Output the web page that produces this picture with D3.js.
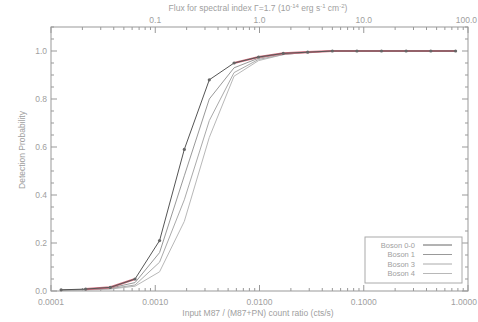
<!DOCTYPE html>
<html><head><meta charset="utf-8">
<script src="https://cdn.jsdelivr.net/npm/d3@7/dist/d3.min.js"></script>
<style>body{margin:0;background:#fff}svg{display:block}text{font-family:"Liberation Sans",Arial,sans-serif;fill:#a0a0a0}</style>
</head><body><svg id="c" width="478" height="322"></svg>
<script>
const ratio = [1.25e-4, 2.15e-4, 3.7e-4, 6.4e-4, 1.1e-3, 1.9e-3, 3.3e-3, 5.7e-3, 9.8e-3, 1.69e-2, 2.9e-2, 5.0e-2, 8.6e-2, 0.148, 0.255, 0.44, 0.76];
const boson00 = [0.005, 0.008, 0.015, 0.05, 0.21, 0.59, 0.88, 0.95, 0.975, 0.99, 0.995, 1, 1, 1, 1, 1, 1];
const boson1  = [0.004, 0.006, 0.012, 0.035, 0.16, 0.48, 0.80, 0.93, 0.97, 0.99, 0.995, 1, 1, 1, 1, 1, 1];
const boson3  = [0.003, 0.005, 0.010, 0.025, 0.12, 0.38, 0.71, 0.91, 0.965, 0.985, 0.995, 1, 1, 1, 1, 1, 1];
const boson4  = [0.002, 0.004, 0.008, 0.020, 0.08, 0.29, 0.64, 0.895, 0.96, 0.985, 0.995, 1, 1, 1, 1, 1, 1];
const redFit  = [null, 0.008, 0.015, 0.05, null, null, null, 0.95, 0.975, 0.99, 0.995, 1, 1, 1, 1, 1, 1];
const legendLabels = ["Boson 0-0", "Boson 1", "Boson 3", "Boson 4"];
const bottomTicks = [1e-4, 1e-3, 1e-2, 1e-1, 1];
const bottomTickLabels = ["0.0001", "0.0010", "0.0100", "0.1000", "1.0000"];
const topTicks = [0.1, 1, 10, 100];
const topTickLabels = ["0.1", "1.0", "10.0", "100.0"];
const yTicks = [0, 0.2, 0.4, 0.6, 0.8, 1.0];
const yTickLabels = ["0.0", "0.2", "0.4", "0.6", "0.8", "1.0"];

const svg = d3.select("#c");
const L = 51, R = 468, T = 27, B = 291;
const x = d3.scaleLog().domain([1e-4, 1]).range([L, R]);
const xTop = d3.scaleLog().domain([1e-2, 100]).range([L, R]);
const y = d3.scaleLinear().domain([0, 1.1]).range([B, T]);
const axisCol = "#999";

svg.append("rect").attr("x", L).attr("y", T).attr("width", R - L).attr("height", B - T)
  .attr("fill", "none").attr("stroke", axisCol).attr("stroke-width", 1);

const g = svg.append("g");
const minorX = [];
for (let e = -4; e < 0; e++) for (let m = 1; m < 10; m++) minorX.push(m * Math.pow(10, e));
minorX.push(1);
minorX.forEach(v => {
  const major = bottomTicks.some(t => Math.abs(t - v) / t < 1e-9);
  const len = major ? 6 : 3;
  const px = x(v);
  g.append("line").attr("x1", px).attr("x2", px).attr("y1", B).attr("y2", B - len).attr("stroke", axisCol);
  g.append("line").attr("x1", px).attr("x2", px).attr("y1", T).attr("y2", T + len).attr("stroke", axisCol);
});
bottomTicks.forEach((v, i) => {
  const last = i === bottomTicks.length - 1;
  g.append("text").attr("x", last ? 477 : x(v)).attr("y", 305)
    .attr("text-anchor", last ? "end" : "middle")
    .attr("font-size", 8.5).text(bottomTickLabels[i]);
});
topTicks.forEach((v, i) => {
  const last = i === topTicks.length - 1;
  g.append("text").attr("x", last ? 477 : xTop(v)).attr("y", 23)
    .attr("text-anchor", last ? "end" : "middle")
    .attr("font-size", 8.5).text(topTickLabels[i]);
});
d3.range(0, 1.1001, 0.05).forEach(v => {
  const major = yTicks.some(t => Math.abs(t - v) < 1e-6);
  const len = major ? 6 : 3;
  const py = y(v);
  g.append("line").attr("x1", L).attr("x2", L + len).attr("y1", py).attr("y2", py).attr("stroke", axisCol);
  g.append("line").attr("x1", R).attr("x2", R - len).attr("y1", py).attr("y2", py).attr("stroke", axisCol);
});
yTicks.forEach((v, i) => {
  g.append("text").attr("x", L - 4).attr("y", y(v) + 3).attr("text-anchor", "end")
    .attr("font-size", 8.5).text(yTickLabels[i]);
});

svg.append("text").attr("x", 258).attr("y", 11).attr("text-anchor", "middle").attr("font-size", 8.5)
  .html('Flux for spectral index Γ=1.7 (10<tspan dy="-3" font-size="6">-14</tspan><tspan dy="3"> erg s</tspan><tspan dy="-3" font-size="6">-1</tspan><tspan dy="3"> cm</tspan><tspan dy="-3" font-size="6">-2</tspan><tspan dy="3">)</tspan>');
svg.append("text").attr("x", 258).attr("y", 316).attr("text-anchor", "middle").attr("font-size", 8.5)
  .text("Input M87 / (M87+PN) count ratio (cts/s)");
svg.append("text").attr("transform", "translate(25,150) rotate(-90)").attr("text-anchor", "middle")
  .attr("font-size", 8.5).text("Detection Probability");

const data = ratio.map((r, i) => ({ r, i }));
const line = arr => d3.line().defined(d => arr[d.i] != null).x(d => x(d.r)).y(d => y(arr[d.i]));
const series = [
  { v: boson4, c: "#b8b8b8", w: 1 },
  { v: boson3, c: "#aaaaaa", w: 1 },
  { v: boson1, c: "#999999", w: 1 }
];
series.forEach(s => {
  svg.append("path").datum(data).attr("d", line(s.v)).attr("fill", "none")
    .attr("stroke", s.c).attr("stroke-width", s.w);
});
svg.append("path").datum(data).attr("d", line(redFit)).attr("fill", "none")
  .attr("stroke", "#d47080").attr("stroke-width", 2.2);
svg.append("path").datum(data).attr("d", line(boson00)).attr("fill", "none")
  .attr("stroke", "#555").attr("stroke-width", 1);
svg.selectAll("circle.m").data(data).enter().append("circle").attr("class", "m")
  .attr("cx", d => x(d.r)).attr("cy", d => y(boson00[d.i])).attr("r", 1.6).attr("fill", "#666");

const lg = svg.append("g");
lg.append("rect").attr("x", 365).attr("y", 237).attr("width", 97).attr("height", 46)
  .attr("fill", "#fff").attr("stroke", "#aaa");
const legCols = ["#666", "#999", "#aaa", "#b8b8b8"];
legendLabels.forEach((lab, i) => {
  const yy = 245 + i * 9.5;
  lg.append("text").attr("x", 415).attr("y", yy + 2.5).attr("text-anchor", "end")
    .attr("font-size", 7.5).text(lab);
  lg.append("line").attr("x1", 423).attr("x2", 452).attr("y1", yy).attr("y2", yy)
    .attr("stroke", legCols[i]);
});
</script></body></html>
